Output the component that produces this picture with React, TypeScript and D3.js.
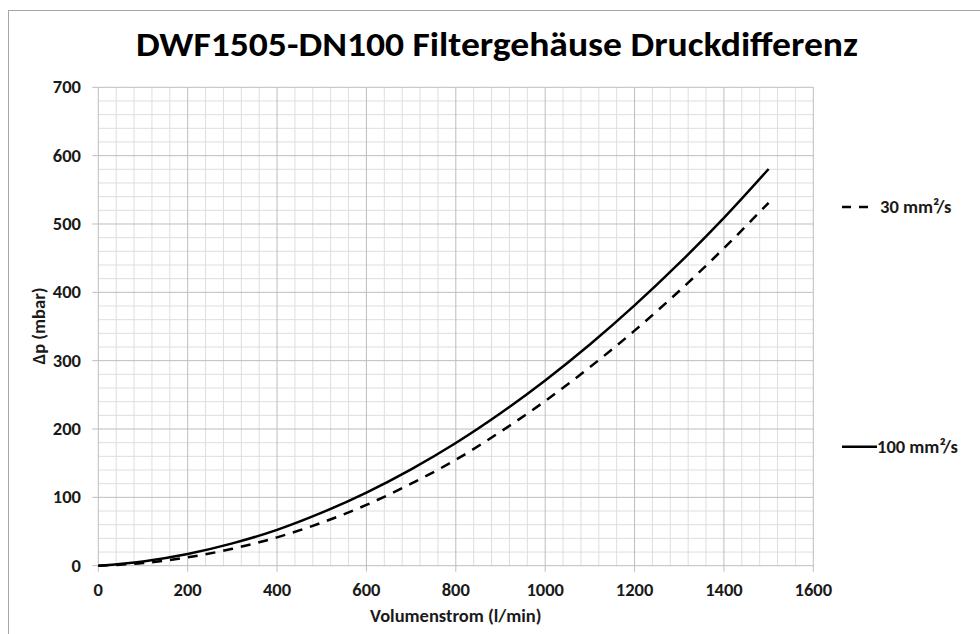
import React from "react";
import * as d3 from "d3";

const xTicks = [0, 200, 400, 600, 800, 1000, 1200, 1400, 1600];
const yTicks = [0, 100, 200, 300, 400, 500, 600, 700];
const flowRate = [0, 100, 200, 300, 400, 500, 600, 700, 800, 900, 1000, 1100, 1200, 1300, 1400, 1500];
const dp100 = [0, 6.3, 17.2, 32.7, 52.5, 77.6, 107, 141, 179.5, 223, 271, 323.6, 380.8, 442.6, 509, 580.5];
const dp30 = [0, 3.8, 12.2, 24.8, 41.5, 63, 89, 120, 155, 196, 241, 290.5, 344, 402, 464.5, 531];
const seriesNames = ["30 mm²/s", "100 mm²/s"];
const titleText = "DWF1505-DN100 Filtergehäuse Druckdifferenz";
const xTitle = "Volumenstrom (l/min)";
const yTitle = "Δp (mbar)";

const FONT = "Carlito, Lato, 'Open Sans', sans-serif";

export default function App() {
  const W = 980, H = 634;
  const x = d3.scaleLinear().domain([0, 1600]).range([98.3, 813.3]);
  const y = d3.scaleLinear().domain([0, 700]).range([565.7, 87.3]);
  const minorX = d3.range(0, 1601, 40).filter((v) => v % 200 !== 0);
  const minorY = d3.range(0, 701, 20).filter((v) => v % 100 !== 0);
  const line = d3
    .line<number>()
    .x((_, i) => x(flowRate[i]))
    .y((d) => y(d))
    .curve(d3.curveMonotoneX);

  return (
    <svg width={W} height={H} style={{ position: "absolute", left: 0, top: 0, background: "#fff" }}>
      <rect x={8.5} y={10.5} width={980} height={640} fill="#fff" stroke="#a6a6a6" strokeWidth={1} />
      <text x={497} y={56} textAnchor="middle" fontFamily={FONT} fontWeight={700} fontSize={34} fill="#000"
        textLength={722} lengthAdjust="spacingAndGlyphs">
        {titleText}
      </text>
      {/* minor grid */}
      {minorX.map((v) => (
        <line key={"mx" + v} x1={x(v)} x2={x(v)} y1={y(700)} y2={y(0)} stroke="#dedede" strokeWidth={1} />
      ))}
      {minorY.map((v) => (
        <line key={"my" + v} x1={x(0)} x2={x(1600)} y1={y(v)} y2={y(v)} stroke="#dedede" strokeWidth={1} />
      ))}
      {/* major grid */}
      {xTicks.map((v) => (
        <line key={"Mx" + v} x1={x(v)} x2={x(v)} y1={y(700)} y2={y(0) + 6} stroke="#bdbdbd" strokeWidth={1} />
      ))}
      {yTicks.map((v) => (
        <line key={"My" + v} x1={x(0) - 6} x2={x(1600)} y1={y(v)} y2={y(v)} stroke="#bdbdbd" strokeWidth={1} />
      ))}
      {/* tick labels */}
      {yTicks.map((v) => (
        <text key={"yl" + v} x={81} y={y(v)} dy="0.33em" textAnchor="end" fontFamily={FONT} fontWeight={700}
          fontSize={18.5} fill="#1a1a1a">
          {v}
        </text>
      ))}
      {xTicks.map((v) => (
        <text key={"xl" + v} x={x(v)} y={596} textAnchor="middle" fontFamily={FONT} fontWeight={700}
          fontSize={18.5} fill="#1a1a1a">
          {v}
        </text>
      ))}
      <text x={455.8} y={622} textAnchor="middle" fontFamily={FONT} fontWeight={700} fontSize={18.5} fill="#1a1a1a">
        {xTitle}
      </text>
      <text transform={`translate(45,326) rotate(-90)`} textAnchor="middle" fontFamily={FONT} fontWeight={700}
        fontSize={18.5} fill="#1a1a1a">
        {yTitle}
      </text>
      {/* series */}
      <path d={line(dp30) || ""} fill="none" stroke="#000" strokeWidth={2.5} strokeDasharray="10,8" />
      <path d={line(dp100) || ""} fill="none" stroke="#000" strokeWidth={2.5} />
      {/* legend */}
      <line x1={842} x2={868} y1={207} y2={207} stroke="#000" strokeWidth={2.5} strokeDasharray="9,8" />
      <text x={880} y={207} dy="0.33em" fontFamily={FONT} fontWeight={700} fontSize={18.5} fill="#1a1a1a">
        {seriesNames[0]}
      </text>
      <line x1={842} x2={877} y1={446.7} y2={446.7} stroke="#000" strokeWidth={2.5} />
      <text x={877} y={446.7} dy="0.33em" fontFamily={FONT} fontWeight={700} fontSize={18.5} fill="#1a1a1a">
        {seriesNames[1]}
      </text>
    </svg>
  );
}
